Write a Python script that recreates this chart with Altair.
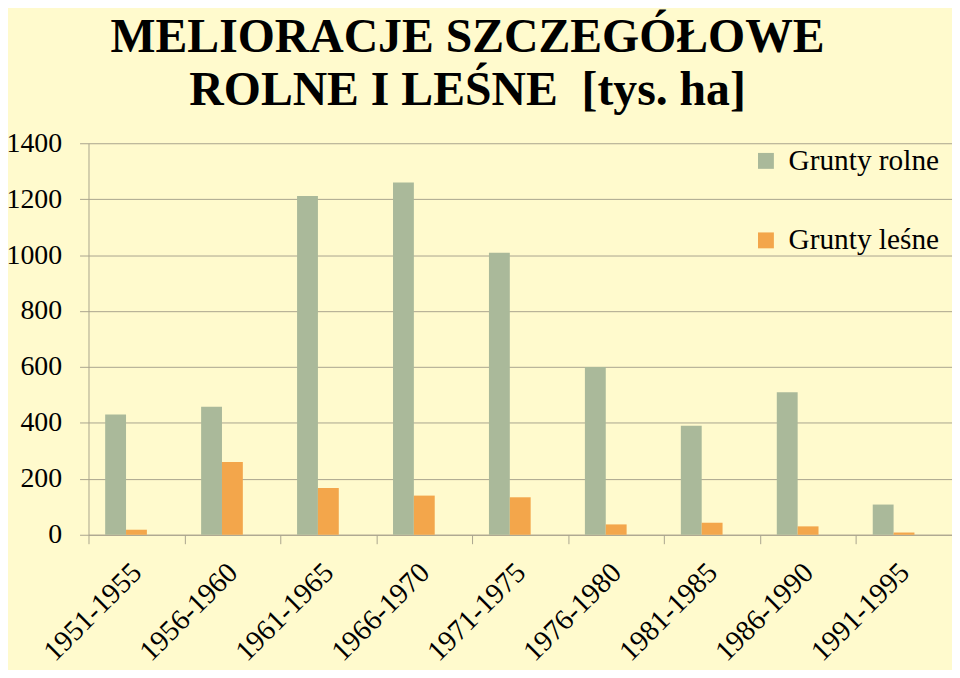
import altair as alt
import pandas as pd

periods = ["1951-1955", "1956-1960", "1961-1965", "1966-1970", "1971-1975",
           "1976-1980", "1981-1985", "1986-1990", "1991-1995"]
rolne = [430, 458, 1211, 1260, 1008, 600, 390, 510, 108]
lesne = [18, 260, 167, 140, 134, 37, 43, 30, 8]
series = ["Grunty rolne", "Grunty leśne"]
colors = ["#AAB99A", "#F3A64B"]
y_ticks = [0, 200, 400, 600, 800, 1000, 1200, 1400]
title_lines = ["MELIORACJE SZCZEGÓŁOWE", "ROLNE I LEŚNE\u00a0 [tys. ha]"]

rows = []
for p, r, l in zip(periods, rolne, lesne):
    rows.append({"okres": p, "seria": series[0], "wartosc": r})
    rows.append({"okres": p, "seria": series[1], "wartosc": l})
df = pd.DataFrame(rows)

grid_col = "#A9A48E"
font = "Times New Roman, Liberation Serif, serif"

chart = alt.Chart(df).mark_bar().encode(
    x=alt.X("okres:N", sort=periods,
            scale=alt.Scale(paddingInner=0, paddingOuter=0),
            axis=alt.Axis(title=None, labelAngle=-45, labelAlign="right",
                          labelBaseline="middle", tickBand="extent",
                          tickSize=9, tickColor=grid_col, domainColor=grid_col,
                          labelPadding=24, grid=False)),
    xOffset=alt.XOffset("seria:N", sort=series,
                        scale=alt.Scale(domain=series + ["_"], paddingInner=0, paddingOuter=0.8)),
    y=alt.Y("wartosc:Q", scale=alt.Scale(domain=[0, 1400]),
            axis=alt.Axis(title=None, values=y_ticks, format="d", tickSize=9,
                          tickColor=grid_col, domainColor=grid_col,
                          gridColor=grid_col, gridOpacity=1,
                          labelPadding=18, labelBaseline="middle")),
    color=alt.Color("seria:N", sort=series,
                    scale=alt.Scale(domain=series, range=colors),
                    legend=alt.Legend(title=None, orient="none", legendX=667, legendY=3,
                                      symbolType="square", symbolSize=256,
                                      symbolStrokeWidth=0,
                                      labelOffset=8, rowPadding=49, padding=0)),
).properties(
    width=869,
    height=394,
    title=alt.TitleParams(title_lines, font=font, fontSize=48, fontWeight="bold",
                          color="black", anchor="middle", dx=-53, offset=14,
                          lineHeight=54),
    padding={"left": 81, "top": 134, "right": 0, "bottom": 134},
    autosize=alt.AutoSizeParams(type="none"),
    background="#FFFACD",
).configure_view(stroke=None).configure_axis(
    labelFont=font, labelFontSize=28, labelColor="black"
).configure_axisX(
    labelFontSize=29
).configure_legend(
    labelFont=font, labelFontSize=29.5, labelColor="black", labelLimit=300
)

chart.save("out.html", embed_options={"renderer": "svg", "actions": False})
